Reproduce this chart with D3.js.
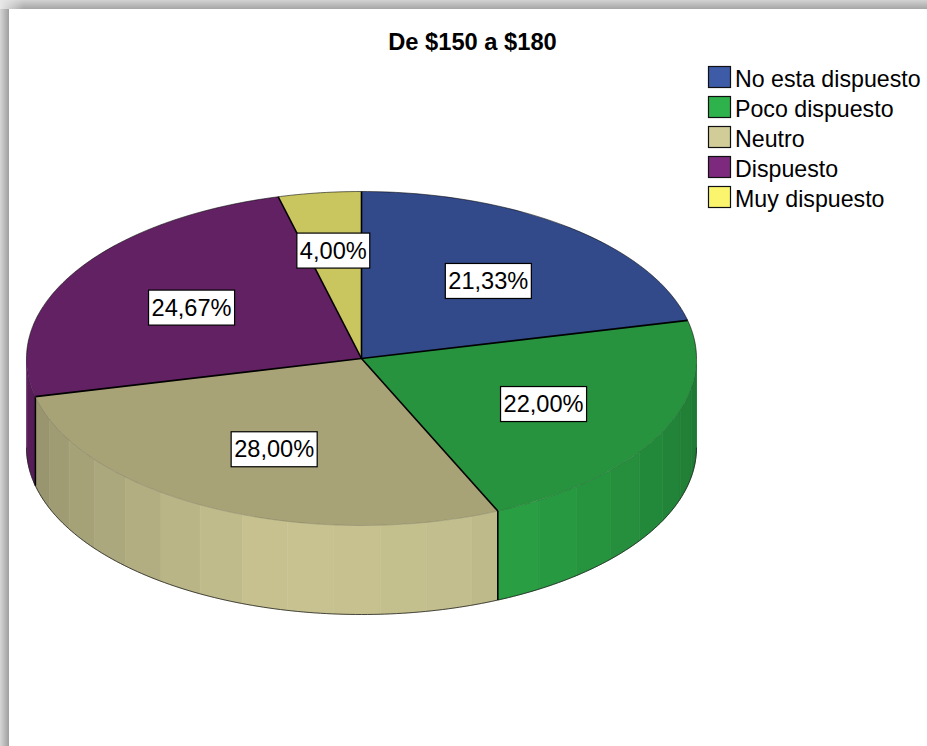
<!DOCTYPE html>
<html><head><meta charset="utf-8">
<script src="https://cdn.jsdelivr.net/npm/d3@7"></script>
<style>html,body{margin:0;padding:0;background:#fff;overflow:hidden}svg{display:block}text{font-family:"Liberation Sans",Arial,sans-serif;fill:#000}</style>
</head><body><svg id="c" width="927" height="746"></svg>
<script>
const titleText = "De $150 a $180";
const categories = ["No esta dispuesto","Poco dispuesto","Neutro","Dispuesto","Muy dispuesto"];
const values = [21.33,22.00,28.00,24.67,4.00];
const legendColors = ["#3e5ba8","#2eb34c","#d2cd98","#7d2a7e","#fbf56e"];
const topColors = ["#32498a","#27933e","#a8a377","#622163","#c9c55f"];

const W=927,H=746,cx=361.5,cy=358.5,rx=335,ry=167,depth=89,facet=8*Math.PI/180;
const svg=d3.select("#c");
const defs=svg.append("defs");
const g1=defs.append("linearGradient").attr("id","shT").attr("x1",0).attr("y1",0).attr("x2",0).attr("y2",1);
g1.append("stop").attr("offset",0).attr("stop-color","#d2d2d2");
g1.append("stop").attr("offset",1).attr("stop-color","#a6a6a6");
const g2=defs.append("linearGradient").attr("id","shL").attr("x1",0).attr("y1",0).attr("x2",1).attr("y2",0);
g2.append("stop").attr("offset",0).attr("stop-color","#d6d6d6");
g2.append("stop").attr("offset",1).attr("stop-color","#9e9e9e");
const g3=defs.append("linearGradient").attr("id","shC").attr("x1",0).attr("y1",0).attr("x2",1).attr("y2",0);
g3.append("stop").attr("offset",0).attr("stop-color","#e8e8e8");
g3.append("stop").attr("offset",1).attr("stop-color","#e8e8e8").attr("stop-opacity",0);
svg.append("rect").attr("x",0).attr("y",0).attr("width",W).attr("height",9).attr("fill","url(#shT)");
svg.append("rect").attr("x",0).attr("y",9).attr("width",9).attr("height",H-9).attr("fill","url(#shL)");
svg.append("rect").attr("x",0).attr("y",0).attr("width",24).attr("height",9).attr("fill","url(#shC)");

svg.append("text").attr("x",472.5).attr("y",50).attr("text-anchor","middle")
  .style("font-size","23.7px").style("font-weight","bold").text(titleText);

const pie=d3.pie().sort(null).value(d=>d)(values);
const px=d3.scaleLinear().domain([-1,1]).range([cx-rx,cx+rx]);
const py=d3.scaleLinear().domain([-1,1]).range([cy-ry,cy+ry]);
const shadeScale=d3.scaleLinear().domain([90,165,195,260,275]).range([0.66,0.93,0.95,0.70,0.66]).clamp(true);
const line=d3.line().x(d=>d[0]).y(d=>d[1]);
const pt=(a,dy=0)=>[px(Math.sin(a)),py(-Math.cos(a))+dy];
const HALF=Math.PI/2, TH=Math.PI*1.5;

// walls: flat-shaded facets, each slice faceted back from its end angle
const walls=svg.append("g");
pie.forEach((s,i)=>{
  let end=s.endAngle;
  while(end>s.startAngle+1e-6){
    const start=Math.max(s.startAngle,end-facet);
    const a0=Math.max(start,HALF),a1=Math.min(end,TH);
    if(a1>a0){
      const n=d3.range(0,13).map(k=>a0+(a1-a0)*k/12);
      const pts=n.map(a=>pt(a)).concat(n.slice().reverse().map(a=>pt(a,depth)));
      const c=d3.rgb(legendColors[i]);
      const f=shadeScale((a0+a1)/2*180/Math.PI);
      const col=d3.rgb(c.r*f,c.g*f,c.b*f);
      walls.append("path").attr("d",line(pts)+"Z").attr("fill",col).attr("stroke",col).attr("stroke-width",0.6);
    }
    end=start;
  }
});
const arcPts=d3.range(0,181).map(k=>HALF+Math.PI*k/180);
walls.append("path").attr("d",line(arcPts.map(a=>pt(a,depth)))).attr("fill","none").attr("stroke","#222").attr("stroke-width",0.8);
pie.forEach(s=>{
  const a=s.endAngle;
  if(a>HALF && a<TH){
    walls.append("path").attr("d",line([pt(a),pt(a,depth)])).attr("stroke","#000").attr("stroke-width",1.6).attr("fill","none");
  }
});

// top surface
const arc=d3.arc().innerRadius(0).outerRadius(rx);
const topG=svg.append("g").attr("transform",`translate(${cx},${cy}) scale(1,${ry/rx})`);
topG.selectAll("path.s").data(pie).join("path").attr("class","s")
  .attr("d",arc).attr("fill",(d,i)=>topColors[i]).attr("stroke","none");
const backRim=d3.range(-90,91).map(k=>k*Math.PI/180);
const frontRim=d3.range(90,271).map(k=>k*Math.PI/180);
svg.append("path").attr("d",line(backRim.map(a=>pt(a)))).attr("fill","none").attr("stroke","#000").attr("stroke-width",0.8).attr("stroke-opacity",0.7);
svg.append("path").attr("d",line(frontRim.map(a=>pt(a)))).attr("fill","none").attr("stroke","#000").attr("stroke-width",0.7).attr("stroke-opacity",0.22);
pie.forEach(s=>{
  svg.append("path").attr("d",line([[cx,cy],pt(s.endAngle)])).attr("stroke","#000").attr("stroke-width",1.6).attr("fill","none");
});

// labels
const labelArc=d3.arc().innerRadius(0.6*rx).outerRadius(0.6*rx);
const fmt=v=>v.toFixed(2).replace(".",",")+"%";
const labels=svg.append("g");
pie.forEach(s=>{
  const [lx,ly]=labelArc.centroid(s);
  const small=s.data<5;               // the narrow slice's label sits further out
  const x=cx+lx+(small?-3:2),y=cy+ly*ry/rx+(small?-8.5:1);
  const g=labels.append("g");
  const t=g.append("text").attr("x",x).attr("y",y+8).attr("text-anchor","middle").style("font-size","23.6px").text(fmt(s.data));
  const w=t.node().getComputedTextLength();
  g.insert("rect","text").attr("x",x-w/2-3).attr("y",y-17.5).attr("width",w+6).attr("height",35)
   .attr("fill","#fff").attr("stroke","#000").attr("stroke-width",1.2);
});

// legend
const lg=svg.append("g");
const lyS=d3.scaleBand().domain(categories).range([65,215]);
categories.forEach((c,i)=>{
  const y=lyS(c);
  lg.append("rect").attr("x",708.5).attr("y",y+1.5).attr("width",22).attr("height",21).attr("fill",legendColors[i]).attr("stroke","#111").attr("stroke-width",1.2);
  lg.append("text").attr("x",735).attr("y",y+22).style("font-size","23.2px").text(c);
});
</script></body></html>
